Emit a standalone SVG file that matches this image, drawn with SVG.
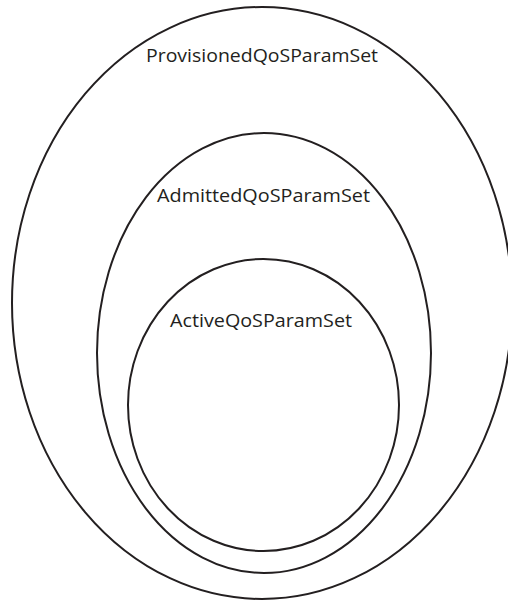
<svg xmlns="http://www.w3.org/2000/svg" width="508" height="603" viewBox="0 0 508 603">
  <style>
    .ring { fill: none; stroke: #231f20; stroke-width: 2; }
    .label { font-family: "Open Sans", "Noto Sans", sans-serif; font-size: 18px; fill: #231f20; text-anchor: middle; }
  </style>
  <rect width="508" height="603" fill="#ffffff"/>
  <g id="provisioned">
    <ellipse class="ring" cx="262" cy="303" rx="250" ry="296"/>
    <text class="label" x="262" y="62" textLength="232" lengthAdjust="spacingAndGlyphs">ProvisionedQoSParamSet</text>
  </g>
  <g id="admitted">
    <ellipse class="ring" cx="264" cy="353" rx="167" ry="220"/>
    <text class="label" x="263.5" y="202" textLength="213" lengthAdjust="spacingAndGlyphs">AdmittedQoSParamSet</text>
  </g>
  <g id="active">
    <ellipse class="ring" cx="263.5" cy="405" rx="135.5" ry="146"/>
    <text class="label" x="261" y="327" textLength="182" lengthAdjust="spacingAndGlyphs">ActiveQoSParamSet</text>
  </g>
  <g id="connectors"/>
</svg>
